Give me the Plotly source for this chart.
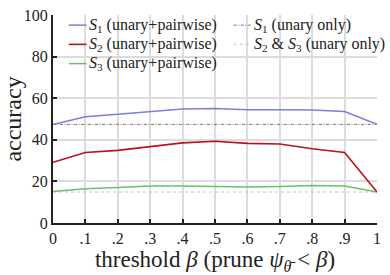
import plotly.graph_objects as go

thresholds = [0, 0.1, 0.2, 0.3, 0.4, 0.5, 0.6, 0.7, 0.8, 0.9, 1.0]
tick_labels = ["0", ".1", ".2", ".3", ".4", ".5", ".6", ".7", ".8", ".9", "1"]
s1_pairwise = [47.4, 51.1, 52.3, 53.7, 54.8, 55.0, 54.5, 54.5, 54.3, 53.6, 47.4]
s2_pairwise = [29.2, 33.9, 34.9, 36.6, 38.5, 39.3, 38.3, 38.0, 35.7, 33.9, 14.9]
s3_pairwise = [15.1, 16.5, 17.1, 17.8, 17.8, 17.6, 17.3, 17.6, 18.0, 17.8, 14.9]
s1_unary = [47.4] * len(thresholds)
s23_unary = [14.9] * len(thresholds)

names = [
    "<i>S</i><sub>1</sub> (unary+pairwise)",
    "<i>S</i><sub>2</sub> (unary+pairwise)",
    "<i>S</i><sub>3</sub> (unary+pairwise)",
    "<i>S</i><sub>1</sub> (unary only)",
    "<i>S</i><sub>2</sub> &amp; <i>S</i><sub>3</sub> (unary only)",
]
colors = ["#7b7fdc", "#b8121b", "#6cbf6c", "#777777", "#c4c4c4"]
dashes = ["solid", "solid", "solid", "3px,1.5px,1px,1.5px", "3px,3px"]
widths = [1.5, 1.6, 1.5, 1.0, 1.0]
series = [s1_pairwise, s2_pairwise, s3_pairwise, s1_unary, s23_unary]

FONT = "Liberation Serif"
fig = go.Figure()
# draw unary baselines first, then pairwise curves on top
for i in [3, 4, 0, 2, 1]:
    fig.add_trace(go.Scatter(
        x=thresholds, y=series[i], mode="lines", name=names[i],
        line=dict(color=colors[i], width=widths[i], dash=dashes[i]),
        showlegend=False,
    ))

# manual legend (two columns)
L, R, B, T = 49, 13, 52, 7
W, H = 390, 275
pw, ph = W - L - R, H - T - B

def px_to_paper(px, py):
    return (px - L) / pw, (H - B - py) / ph

legend_pos = [(65, 17.5), (65, 37.5), (65, 57.5), (232, 17.5), (232, 37.5)]
for i, (lx, ly) in enumerate(legend_pos):
    x0, y0 = px_to_paper(lx, ly)
    x1, _ = px_to_paper(lx + 18, ly)
    fig.add_shape(type="line", xref="paper", yref="paper", x0=x0, x1=x1, y0=y0, y1=y0,
                  line=dict(color=colors[i], width=widths[i], dash=dashes[i]))
    tx, _ = px_to_paper(lx + 20, ly)
    fig.add_annotation(xref="paper", yref="paper", x=tx, y=y0, text=names[i], showarrow=False,
                       xanchor="left", yanchor="middle", xshift=-2,
                       font=dict(family=FONT, size=16, color="#222"))

fig.update_layout(
    width=W, height=H,
    margin=dict(l=L, r=R, t=T, b=B),
    paper_bgcolor="white", plot_bgcolor="white",
    font=dict(family=FONT, size=16, color="#222"),
    xaxis=dict(
        range=[0, 1], tickvals=thresholds, ticktext=tick_labels,
        showgrid=True, gridcolor="#dcdcdc", gridwidth=1.5,
        showline=True, linecolor="#222", linewidth=2,
        ticks="inside", ticklen=4, tickcolor="#222", tickwidth=1.5,
        zeroline=False, ticklabeloverflow="allow",
        title=dict(text="threshold <i>β</i> (prune <i>ψ</i><sub><i>θ̄</i></sub> &lt; <i>β</i>)",
                   font=dict(family=FONT, size=23), standoff=4),
    ),
    yaxis=dict(
        range=[0, 100], tickvals=[0, 20, 40, 60, 80, 100],
        showgrid=True, gridcolor="#dcdcdc", gridwidth=1.5,
        showline=True, linecolor="#222", linewidth=2,
        ticks="inside", ticklen=4, tickcolor="#222", tickwidth=1.5,
        zeroline=False, ticklabeloverflow="allow",
        title=dict(text="accuracy", font=dict(family=FONT, size=24), standoff=0),
    ),
)

fig.write_html("out.html", config={"displayModeBar": False},
               post_script="document.body.style.margin='0';")
